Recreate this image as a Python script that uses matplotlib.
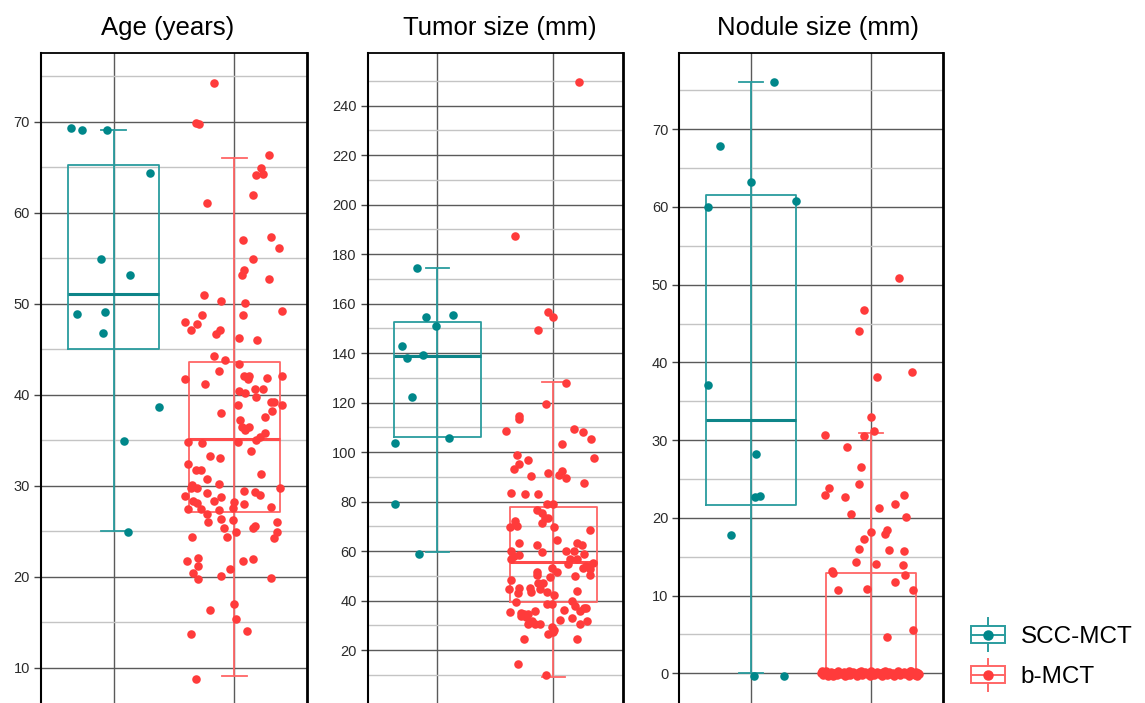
"""
Box plots with jittered points: age, tumour size and nodule size
for SCC-MCT versus b-MCT.
"""

import matplotlib
matplotlib.use("Agg")
import matplotlib.pyplot as plt
import numpy as np
from matplotlib.legend_handler import HandlerBase
from matplotlib.lines import Line2D
from matplotlib.patches import Rectangle

plt.rcParams["font.family"] = ["Liberation Sans", "DejaVu Sans"]

groups = ["SCC-MCT", "b-MCT"]
titles = ["Age (years)", "Tumor size (mm)", "Nodule size (mm)"]

# box summaries: [lower whisker, Q1, median, Q3, upper whisker]
age_scc_box = [25.0, 45.0, 51.1, 65.2, 69.1]
age_b_box = [9.1, 27.1, 35.1, 43.6, 66.0]
tumor_scc_box = [59.6, 106.0, 139.0, 152.5, 174.3]
tumor_b_box = [9.3, 39.6, 55.7, 78.0, 128.3]
nodule_scc_box = [0.0, 21.7, 32.6, 61.5, 76.1]
nodule_b_box = [0.0, 0.0, 0.0, 12.85, 30.9]

# individual cases (y value) and their horizontal jitter (category units)
age_scc = [69.3, 69.1, 69.1, 64.4, 54.9, 53.1, 48.9, 49.1, 46.8, 38.7, 34.9, 24.9]
age_scc_jit = [-0.35, -0.26, -0.05, 0.30, -0.10, 0.14, -0.30, -0.07, -0.09, 0.38, 0.09, 0.12]

age_b = [74.3, 69.9, 69.7, 66.3, 64.9, 64.1, 64.2, 61.9, 61.1, 57.0, 57.3, 56.1, 54.9, 53.7,
         53.2, 52.7, 51.0, 50.3, 50.1, 49.2, 48.0, 48.8, 48.8, 47.8, 47.1, 46.7, 47.1, 46.2,
         46.0, 44.3, 43.8, 43.4, 42.6, 41.7, 41.2, 42.1, 42.1, 41.7, 41.8, 42.1, 38.9, 40.4,
         40.2, 39.7, 40.6, 40.6, 38.0, 39.2, 39.2, 38.9, 38.2, 37.2, 37.6, 36.4, 36.1, 36.4,
         35.8, 35.4, 35.0, 34.8, 34.7, 34.8, 33.8, 33.3, 33.0, 32.4, 31.7, 31.7, 31.3, 30.7,
         30.2, 30.1, 29.7, 29.7, 29.7, 29.4, 29.3, 29.0, 28.9, 29.2, 28.8, 28.3, 28.1, 28.3,
         28.2, 28.0, 27.7, 27.4, 27.4, 26.9, 27.3, 27.5, 26.3, 26.2, 26.0, 26.0, 25.4, 25.6,
         25.4, 24.9, 24.9, 24.4, 24.4, 24.2, 21.7, 22.1, 21.2, 21.7, 21.9, 20.4, 19.8, 20.8,
         20.1, 19.9, 16.3, 17.0, 15.3, 13.7, 14.0, 8.8]
age_b_jit = [-0.17, -0.32, -0.29, 0.29, 0.22, 0.18, 0.24, 0.15, -0.23, 0.07, 0.30, 0.37, 0.15, 0.08,
             0.06, 0.29, -0.25, -0.11, 0.09, 0.39, -0.41, -0.27, 0.07, -0.31, -0.36, -0.15, -0.12, 0.04,
             0.19, -0.17, -0.08, 0.04, -0.13, -0.41, -0.24, 0.08, 0.12, 0.11, 0.27, 0.39, 0.03, 0.04,
             0.09, 0.18, 0.17, 0.24, -0.11, 0.30, 0.33, 0.39, 0.31, 0.05, 0.25, 0.06, 0.09, 0.12,
             0.25, 0.21, 0.18, -0.38, -0.27, 0.03, 0.14, -0.20, -0.12, -0.38, -0.32, -0.28, 0.22, -0.23,
             -0.13, -0.35, -0.31, -0.36, 0.38, 0.08, 0.17, 0.21, -0.41, -0.23, -0.11, -0.34, -0.31, -0.17,
             0.00, 0.08, 0.30, -0.38, -0.28, -0.23, -0.13, -0.01, -0.11, -0.01, -0.22, 0.35, -0.09, 0.17,
             0.15, 0.01, 0.35, -0.35, -0.06, 0.33, -0.39, -0.30, -0.30, 0.07, 0.15, -0.34, -0.30, -0.04,
             -0.11, 0.30, -0.20, 0.00, 0.01, -0.36, 0.10, -0.32]

tumor_scc = [174.3, 154.8, 155.4, 150.8, 143.0, 138.0, 139.1, 122.1, 103.8, 105.9, 79.1, 58.9]
tumor_scc_jit = [-0.17, -0.10, 0.14, -0.01, -0.30, -0.26, -0.12, -0.22, -0.36, 0.10, -0.36, -0.16]

tumor_b = [249.6, 187.4, 149.2, 156.6, 154.8, 127.8, 119.3, 108.7, 114.4, 113.3, 109.3, 108.2,
           105.4, 103.1, 98.8, 95.3, 97.0, 93.2, 97.6, 90.2, 91.4, 90.7, 92.5, 89.7, 87.5, 83.5,
           83.1, 83.1, 79.1, 79.1, 76.5, 75.4, 73.4, 73.4, 72.3, 70.1, 69.8, 71.3, 69.8, 68.5,
           64.6, 63.4, 62.4, 63.4, 62.3, 59.6, 60.0, 60.0, 58.9, 60.0, 58.0, 58.4, 56.6, 57.0,
           56.6, 54.6, 55.2, 54.0, 53.0, 53.0, 51.7, 51.5, 50.5, 52.6, 50.2, 49.9, 48.3, 49.5,
           47.2, 47.2, 45.0, 45.2, 44.6, 44.6, 43.5, 43.5, 43.9, 43.0, 42.1, 39.3, 38.8, 38.8,
           39.7, 37.9, 36.8, 35.8, 37.1, 35.3, 35.8, 36.2, 34.9, 34.5, 33.8, 34.5, 33.2, 31.9,
           32.2, 32.9, 31.7, 30.5, 30.5, 30.5, 30.5, 29.5, 28.2, 27.4, 26.6, 24.3, 24.3, 14.2, 9.8]
tumor_b_jit = [0.22, -0.33, -0.13, -0.04, 0.00, 0.11, -0.06, -0.41, -0.29, -0.29, 0.18, 0.26,
               0.33, 0.08, -0.31, -0.29, -0.22, -0.34, 0.35, -0.19, -0.04, 0.05, 0.08, 0.11, 0.27, -0.36,
               -0.24, -0.13, -0.05, 0.00, -0.14, -0.10, -0.07, -0.04, -0.33, -0.31, -0.37, -0.10, 0.01, 0.32,
               0.03, -0.29, -0.14, 0.21, 0.25, -0.10, 0.11, 0.18, 0.27, -0.36, -0.34, -0.29, -0.36, 0.15,
               0.21, 0.13, 0.34, 0.28, 0.26, -0.01, 0.03, -0.14, -0.14, 0.32, 0.32, 0.19, -0.36, -0.03,
               -0.13, -0.09, -0.29, -0.20, -0.11, -0.38, -0.19, -0.05, 0.21, -0.30, 0.01, -0.32, -0.05, -0.01,
               0.16, 0.19, 0.27, 0.23, 0.28, -0.37, -0.16, 0.09, -0.28, -0.25, -0.28, -0.22, -0.23, -0.18,
               0.06, 0.16, 0.29, -0.22, -0.16, -0.11, 0.23, -0.01, 0.01, 0.00, -0.04, -0.25, 0.21, -0.30, -0.06]

nodule_scc = [76.1, 67.9, 63.2, 60.0, 60.7, 37.1, 28.2, 22.7, 22.8, 17.8, -0.3, -0.3]
nodule_scc_jit = [0.19, -0.26, 0.00, -0.36, 0.37, -0.36, 0.04, 0.03, 0.07, -0.17, 0.02, 0.27]

nodule_b = [50.9, 46.8, 44.1, 38.7, 38.1, 33.0, 31.2, 30.5, 30.7, 29.1, 26.6, 24.3, 23.9,
            23.0, 22.7, 23.0, 21.8, 21.3, 20.5, 20.1, 18.2, 18.4, 17.9, 17.3, 16.0, 15.9,
            15.7, 14.3, 14.1, 13.9, 13.2, 12.9, 12.7, 11.8, 10.7, 10.9, 10.7, 5.6, 4.7,
            0.1, -0.2, 0.3, -0.1, 0.0, 0.2, -0.3, 0.1, -0.2, 0.3, 0.0, -0.1, 0.2, -0.3,
            0.1, 0.3, -0.2, 0.0, 0.2, -0.1, -0.3, 0.1, 0.3, -0.2, 0.0, 0.2, -0.1, 0.1,
            -0.3, 0.3, -0.2, 0.0, 0.2, -0.1, 0.1, -0.3, 0.3, 0.0, -0.2, 0.2, -0.1, 0.1,
            -0.3, 0.0, 0.3, -0.2, 0.1, 0.2, -0.1, 0.0, -0.3, 0.3, 0.1, -0.2, 0.2, 0.0,
            -0.1, 0.3, -0.3, 0.1, -0.2, 0.2, 0.0, -0.1, 0.1, 0.3, -0.3, 0.0, 0.2]
nodule_b_jit = [0.23, -0.06, -0.10, 0.34, 0.05, 0.00, 0.02, -0.06, -0.39, -0.20, -0.09, -0.10, -0.35,
                -0.39, -0.22, 0.27, 0.20, 0.06, -0.17, 0.29, 0.00, 0.13, 0.11, -0.06, -0.10, 0.15,
                0.27, -0.13, 0.04, 0.26, -0.33, -0.32, 0.28, 0.20, -0.28, -0.04, 0.35, 0.35, 0.13,
                -0.42, -0.40, -0.38, -0.37, -0.35, -0.34, -0.32, -0.31, -0.29, -0.28, -0.26, -0.25, -0.23, -0.22,
                -0.21, -0.19, -0.18, -0.16, -0.15, -0.14, -0.12, -0.11, -0.09, -0.08, -0.07, -0.05, -0.04, -0.02,
                -0.01, 0.00, 0.02, 0.03, 0.05, 0.06, 0.08, 0.09, 0.11, 0.12, 0.13, 0.15, 0.16, 0.18,
                0.19, 0.21, 0.22, 0.24, 0.25, 0.27, 0.28, 0.30, 0.31, 0.33, 0.34, 0.36, 0.37, 0.39,
                0.40, -0.41, -0.36, -0.30, -0.20, -0.10, 0.04, 0.14, 0.23, 0.32, 0.38, -0.27, 0.10]

# axis breaks
age_major = list(range(10, 71, 10))
age_minor = list(range(15, 76, 10))
tumor_major = list(range(20, 241, 20))
tumor_minor = list(range(10, 251, 20))
nodule_major = list(range(0, 71, 10))
nodule_minor = list(range(5, 76, 10))

box_colors = ["#2A9C9E", "#FF6666"]
median_colors = ["#0E8589", "#FF4A4A"]
point_colors = ["#00878A", "#FF3B3B"]

panels = [
    (titles[0], [age_scc_box, age_b_box], [(age_scc, age_scc_jit), (age_b, age_b_jit)],
     (6.12, 77.55), age_major, age_minor),
    (titles[1], [tumor_scc_box, tumor_b_box], [(tumor_scc, tumor_scc_jit), (tumor_b, tumor_b_jit)],
     (-1.4, 261.3), tumor_major, tumor_minor),
    (titles[2], [nodule_scc_box, nodule_b_box], [(nodule_scc, nodule_scc_jit), (nodule_b, nodule_b_jit)],
     (-3.82, 79.8), nodule_major, nodule_minor),
]

# axes extents in figure fraction: left, width (bottom runs off the figure), title x
ax_rects = [(0.0358, 0.2323, 0.476), (0.3211, 0.2227, 0.519), (0.5933, 0.2306, 0.525)]


class BoxHandler(HandlerBase):
    """Little boxplot glyph for the legend."""

    def create_artists(self, legend, orig_handle, xdescent, ydescent,
                       width, height, fontsize, trans):
        ec = orig_handle.get_color()
        fc = orig_handle.get_markerfacecolor()
        x0, y0 = -xdescent, -ydescent
        xm, ym = x0 + width / 2, y0 + height / 2
        box = Rectangle((x0, y0), width, height, fill=False, ec=ec, lw=1.4, transform=trans)
        med = Line2D([x0, x0 + width], [ym, ym], color=ec, lw=1.4, transform=trans)
        top = Line2D([xm, xm], [y0 + height, y0 + height * 1.45], color=ec, lw=1.4, transform=trans)
        bot = Line2D([xm, xm], [y0 - height * 0.45, y0], color=ec, lw=1.4, transform=trans)
        dot = Line2D([xm], [ym], marker="o", ms=6.5, color=fc, ls="none", transform=trans)
        return [box, med, top, bot, dot]


fig = plt.figure(figsize=(11.45, 7.03), dpi=100)

for (title, boxes, points, ylim, major, minor), (left, width, tx) in zip(panels, ax_rects):
    ax = fig.add_axes([left, 0.0, width, 0.9246])

    for i, b in enumerate(boxes):
        st = dict(whislo=b[0], q1=b[1], med=b[2], q3=b[3], whishi=b[4], fliers=[])
        ax.bxp([st], positions=[i + 1], widths=0.75, capwidths=0.2, showfliers=False,
               manage_ticks=False,
               boxprops=dict(color=box_colors[i], lw=1.3),
               whiskerprops=dict(color=box_colors[i], lw=1.3),
               capprops=dict(color=box_colors[i], lw=1.3),
               medianprops=dict(color=median_colors[i], lw=2.2))
        # errorbar line shows through the unfilled box
        ax.vlines(i + 1, b[1], b[3], color=box_colors[i], lw=1.3)

    for i, (vals, jit) in enumerate(points):
        ax.scatter(i + 1 + np.array(jit), vals, s=38, color=point_colors[i],
                   linewidths=0, zorder=4)

    ax.set_xlim(0.4, 2.6)
    ax.set_ylim(*ylim)
    ax.set_xticks([1, 2])
    ax.set_xticklabels([])
    ax.set_yticks(major)
    ax.set_yticks(minor, minor=True)
    ax.set_axisbelow(True)
    ax.grid(which="major", color="#5a5a5a", lw=1.0)
    ax.grid(which="minor", axis="y", color="#c4c4c4", lw=1.0)
    ax.tick_params(axis="x", length=0)
    ax.tick_params(axis="y", which="major", length=5, width=1, color="#444444",
                   labelsize=10.5, labelcolor="#2b2b2b", pad=3)
    ax.tick_params(axis="y", which="minor", length=0)

    ax.spines["bottom"].set_visible(False)
    ax.spines["left"].set_linewidth(1.5)
    ax.spines["top"].set_linewidth(1.3)
    ax.spines["right"].set_linewidth(2.0)
    for s in ("left", "top", "right"):
        ax.spines[s].set_color("black")

    ax.set_title(title, fontsize=18.5, pad=13, x=tx)

handles = [Line2D([], [], color=box_colors[i], markerfacecolor=point_colors[i]) for i in range(2)]
fig.legend(handles, groups, handler_map={Line2D: BoxHandler()},
           loc="upper left", bbox_to_anchor=(0.848, 1 - 626 / 703),
           frameon=False, fontsize=17.5, handlelength=1.4, handleheight=0.7,
           handletextpad=0.65, labelspacing=0.75, borderpad=0, borderaxespad=0)

fig.savefig("out.png", dpi=100)
